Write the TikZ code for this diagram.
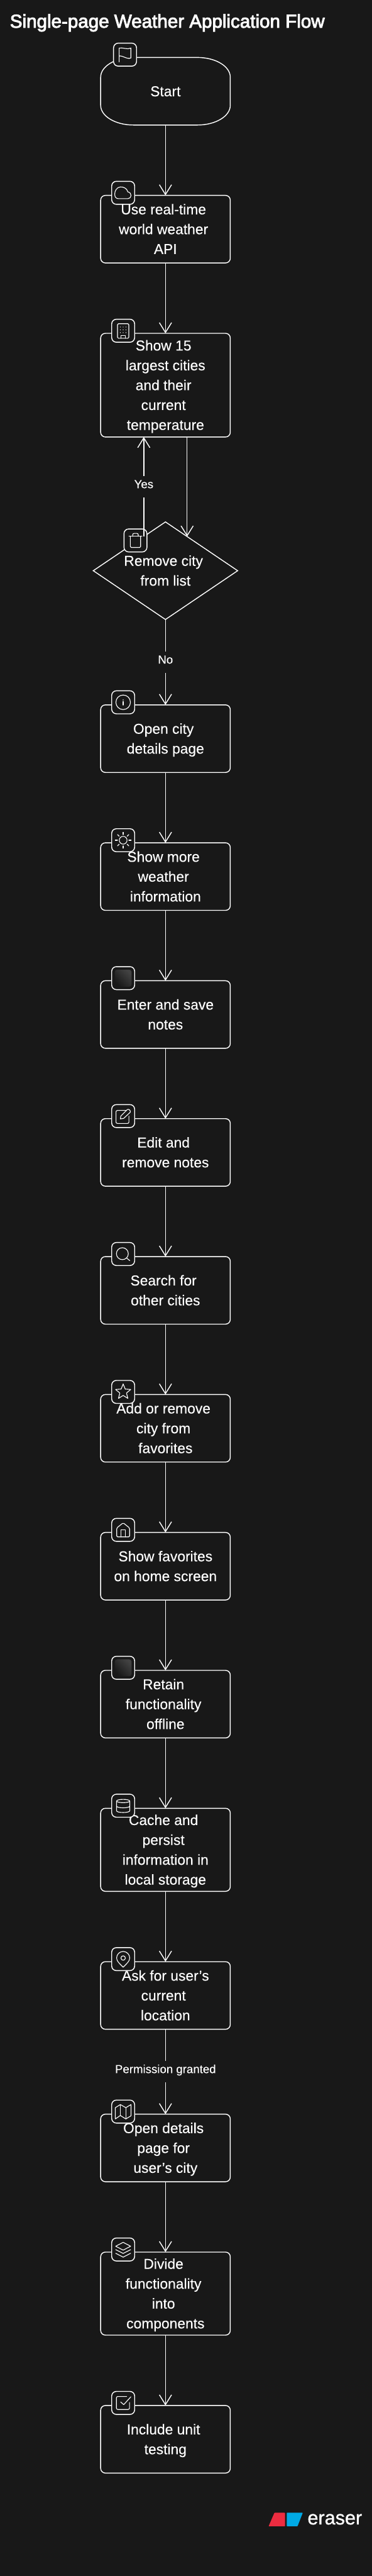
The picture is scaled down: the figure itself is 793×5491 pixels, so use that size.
\documentclass[tikz,border=0pt]{standalone}
\usepackage{fontspec}
\usetikzlibrary{arrows.meta,positioning,calc,shapes.geometric}
\setmainfont{Liberation Sans}[FakeBold=0.25]
\newfontfamily\titlefont[FakeBold=3]{Liberation Sans}
\newfontfamily\brandfont[FakeBold=1]{Liberation Sans}
\definecolor{canvas}{HTML}{181818}
\definecolor{brandred}{HTML}{EC2C40}
\definecolor{brandblue}{HTML}{00A9E5}
\newcommand{\boxstrut}{\rule[-10.45pt]{0pt}{42.3pt}}
\newcommand{\lb}{\boxstrut\\}
\newcommand{\nl}{\boxstrut\kern8.5pt\\}
\newcommand{\tagicon}[2]{%
  \node[iconbox] (#1Icon) at ([shift={(48,5.5)}]#1.north west) {};
  \pic at (#1Icon) {#2};}
\tikzset{
  flowbox/.style={draw=white, line width=1.9pt, rounded corners=10pt, align=center,
    minimum width=276.5pt, minimum height=144pt, inner sep=0pt, outer sep=0pt, text=white,
    font=\fontsize{30.6}{42.3}\selectfont, execute at end node=\boxstrut},
  tallbox/.style={flowbox, minimum height=177pt},
  hugebox/.style={flowbox, minimum height=221pt},
  startbox/.style={flowbox, draw=none},
  startline/.style={draw=white, line width=1.9pt},
  choicebox/.style={flowbox, shape=diamond, aspect=1.48, rounded corners=0pt,
    minimum width=308pt, minimum height=208pt},
  iconbox/.style={draw=white, line width=1.9pt, fill=canvas, rounded corners=10pt,
    minimum size=49pt, inner sep=0pt, outer sep=0pt},
  glyph/.style={draw=white, line width=1.5pt, line join=round, line cap=round},
  arr/.style={-{Straight Barb[length=21pt,width=26pt]}, line width=1.9pt, draw=white},
  edgelabel/.style={fill=canvas, text=white, font=\fontsize{25}{28}\selectfont,
    inner xsep=0pt, inner ysep=0pt, text height=26pt, text depth=20pt},
  flagglyph/.pic={\draw[glyph] (-12.5,-15.5) -- (-12.5,14) .. controls (-6,16) and (5,10) .. (12.5,14)
    -- (12.5,-7) .. controls (5,-11) and (-6,-1) .. (-12.5,-3);},
  cloudglyph/.pic={\draw[glyph] (-10,-12.5) -- (10,-12.5) .. controls (18,-12.5) and (20,0) .. (10,2)
    .. controls (8,10) and (0,13) .. (-6,12.5) .. controls (-14,12) and (-18,4) .. (-18,-3)
    .. controls (-18,-9) and (-15,-12.5) .. (-10,-12.5) -- cycle;},
  buildingglyph/.pic={\draw[glyph, rounded corners=2pt] (-12,-16) rectangle (12,15);
    \draw[glyph] (-5,-16) -- (-5,-10) -- (5,-10) -- (5,-16);
    \foreach \dx in {-6,0,6} \foreach \dy in {8,2,-4} \fill[white] (\dx,\dy) circle (0.9pt);},
  trashglyph/.pic={\draw[glyph] (-14,8.7) -- (14,8.7);
    \draw[glyph, rounded corners=2pt] (-11,8.7) -- (-11,-15) -- (11,-15) -- (11,8.7);
    \draw[glyph, rounded corners=3pt] (-6,8.7) -- (-6,15) -- (6,15) -- (6,8.7);},
  infoglyph/.pic={\draw[glyph] (0,0) circle (15.5pt);
    \draw[glyph] (0,-6) -- (0,1.7);
    \fill[white] (0,5) circle (1.1pt);},
  sunglyph/.pic={\draw[glyph] (0,0) circle (8.3pt);
    \foreach \ang in {0,45,...,315} \draw[glyph] (\ang:12) -- (\ang:17);},
  blankglyph/.pic={\shade[rounded corners=5pt, top color=black!20!canvas!80!white, bottom color=canvas,
    shading angle=-45] (-18,-18) rectangle (18,18);},
  editglyph/.pic={\draw[glyph, rounded corners=3pt] (7,12) -- (-15.3,12) -- (-15.3,-15.7) -- (12.3,-15.7) -- (12.3,0);
    \draw[glyph] (-6,-6) -- (-5,0) -- (9,14) .. controls (12,16) and (17,11) .. (15,8) -- (1,-5) -- cycle;},
  searchglyph/.pic={\draw[glyph] (-1.7,0.7) circle (12.7pt);
    \draw[glyph] (7,-8.3) -- (14,-14);},
  starglyph/.pic={\draw[glyph] (90:17) -- (126:7.5) -- (162:17) -- (198:7.5) -- (234:17) -- (270:7.5)
    -- (306:17) -- (342:7.5) -- (18:17) -- (54:7.5) -- cycle;},
  homeglyph/.pic={\draw[glyph, rounded corners=2pt] (-13.7,4) -- (0,15) -- (13.7,4) -- (13.7,-15) -- (-13.7,-15) -- cycle;
    \draw[glyph] (-4.5,-15) -- (-4.5,0) -- (4.5,0) -- (4.5,-15);},
  dbglyph/.pic={\draw[glyph] (0,10) ellipse (14pt and 3.5pt);
    \draw[glyph] (-14,10) -- (-14,-11) arc[start angle=180, end angle=360, x radius=14, y radius=3.5] -- (14,10);
    \draw[glyph] (-14,-1) arc[start angle=180, end angle=360, x radius=14, y radius=3.5];},
  pinglyph/.pic={\draw[glyph] (0,-17.3) .. controls (-6,-11) and (-14,-5) .. (-14,2.3)
    arc[start angle=180, end angle=0, radius=14] .. controls (14,-5) and (6,-11) .. (0,-17.3) -- cycle;
    \draw[glyph] (0,2.3) circle (4.7pt);},
  mapglyph/.pic={\draw[glyph] (-16.7,8.3) -- (-6,15) -- (5.7,8.3) -- (16.7,15) -- (16.7,-9) -- (5.7,-15.7)
    -- (-6,-8.3) -- (-16.7,-15.7) -- cycle;
    \draw[glyph] (-6,15) -- (-6,-8.3);
    \draw[glyph] (5.7,8.3) -- (5.7,-15.7);},
  layersglyph/.pic={\draw[glyph] (-16,7) -- (0,15.3) -- (16,7) -- (0,-1.3) -- cycle;
    \draw[glyph] (-16,-0.3) -- (0,-8.3) -- (16,-0.3);
    \draw[glyph] (-16,-8) -- (0,-16.3) -- (16,-8);},
  checkglyph/.pic={\draw[glyph, rounded corners=3pt] (7.4,13.7) -- (-14.4,13.7) -- (-14.4,-14) -- (13.5,-14) -- (13.5,1);
    \draw[glyph] (-5.3,2) -- (1.2,-3.7) -- (16.4,13);}
}
\begin{document}
\begin{tikzpicture}[x=1pt, y=1pt, node distance=150pt]
  \fill[canvas] (0,0) rectangle (793,-5491);
  \useasboundingbox (0,0) rectangle (793,-5491);
  \node[anchor=base west, inner sep=0pt, text=white, font=\titlefont\fontsize{39.65}{48}\selectfont] (title) at (21,-59) {Single-page Weather Application Flow};

  \node[startbox] (start) at (353,-194.5) {Start};
  \draw[startline] ([xshift=70]start.north west) -- ++(136.5,0)
    arc[start angle=90, end angle=0, x radius=70, y radius=42] -- ++(0,-60)
    arc[start angle=0, end angle=-90, x radius=70, y radius=42] -- ++(-136.5,0)
    arc[start angle=-90, end angle=-180, x radius=70, y radius=42] -- ++(0,60)
    arc[start angle=180, end angle=90, x radius=70, y radius=42] -- cycle;
  \node[flowbox, below=of start] (api) {Use real-time\nl world weather\nl API};
  \node[hugebox, below=of api] (cities) {Show 15\nl largest cities\lb and their\nl current\nl temperature};
  \node[choicebox, below=181pt of cities] (remove) {Remove city\nl from list};
  \node[flowbox, below=182pt of remove] (details) {Open city\nl details page};
  \node[flowbox, below=of details] (weather) {Show more\nl weather\nl information};
  \node[flowbox, below=of weather] (enter) {Enter and save\lb notes};
  \node[flowbox, below=of enter] (edit) {Edit and\nl remove notes};
  \node[flowbox, below=of edit] (search) {Search for\nl other cities};
  \node[flowbox, below=of search] (favorite) {Add or remove\nl city from\nl favorites};
  \node[flowbox, below=of favorite] (home) {Show favorites\lb on home screen};
  \node[flowbox, below=of home] (offline) {Retain\nl functionality\nl offline};
  \node[tallbox, below=of offline] (cache) {Cache and\nl persist\nl information in\lb local storage};
  \node[flowbox, below=of cache] (location) {Ask for user's\lb current\nl location};
  \node[flowbox, below=181pt of location] (usercity) {Open details\nl page for\nl user's city};
  \node[tallbox, below=of usercity] (divide) {Divide\nl functionality\nl into\nl components};
  \node[flowbox, below=of divide] (testing) {Include unit\nl testing};

  \node[iconbox] (startIcon) at ([shift={(52,6)}]start.north west) {};
  \pic at (startIcon) {flagglyph};
  \tagicon{api}{cloudglyph}
  \tagicon{cities}{buildingglyph}
  \node[iconbox] (removeIcon) at ([shift={(-64,-39.5)}]remove.north) {};
  \pic at (removeIcon) {trashglyph};
  \tagicon{details}{infoglyph}
  \tagicon{weather}{sunglyph}
  \tagicon{enter}{blankglyph}
  \tagicon{edit}{editglyph}
  \tagicon{search}{searchglyph}
  \tagicon{favorite}{starglyph}
  \tagicon{home}{homeglyph}
  \tagicon{offline}{blankglyph}
  \tagicon{cache}{dbglyph}
  \tagicon{location}{pinglyph}
  \tagicon{usercity}{mapglyph}
  \tagicon{divide}{layersglyph}
  \tagicon{testing}{checkglyph}

  \coordinate (yesFoot) at ($(remove.north)!0.3!(remove.west)$);
  \coordinate (backFoot) at ($(remove.north)!0.3!(remove.east)$);
  \foreach \a/\b in {start/api, api/cities, details/weather, weather/enter, enter/edit, edit/search,
    search/favorite, favorite/home, home/offline, offline/cache, cache/location, usercity/divide, divide/testing}
    \draw[arr] (\a) -- (\b);
  \draw[arr] (yesFoot) -- node[edgelabel] (yesLabel) {Yes} (cities.south -| yesFoot);
  \draw[arr] (cities.south -| backFoot) -- (backFoot);
  \draw[arr] (remove.south) -- node[edgelabel] (noLabel) {No} (details.north);
  \draw[arr] (location.south) -- node[edgelabel] (grantLabel) {Permission granted} (usercity.north);

  \fill[brandred, rounded corners=1pt] (573,-5385) -- (585.5,-5356) -- (608,-5356) -- (608,-5385) -- cycle;
  \fill[brandblue, rounded corners=1pt] (611.7,-5385) -- (611.7,-5356) -- (646,-5356) -- (634.7,-5385) -- cycle;
  \node[anchor=base west, inner sep=0pt, text=white, font=\brandfont\fontsize{41}{48}\selectfont] (brand) at (656,-5381) {eraser};
\end{tikzpicture}
\end{document}
